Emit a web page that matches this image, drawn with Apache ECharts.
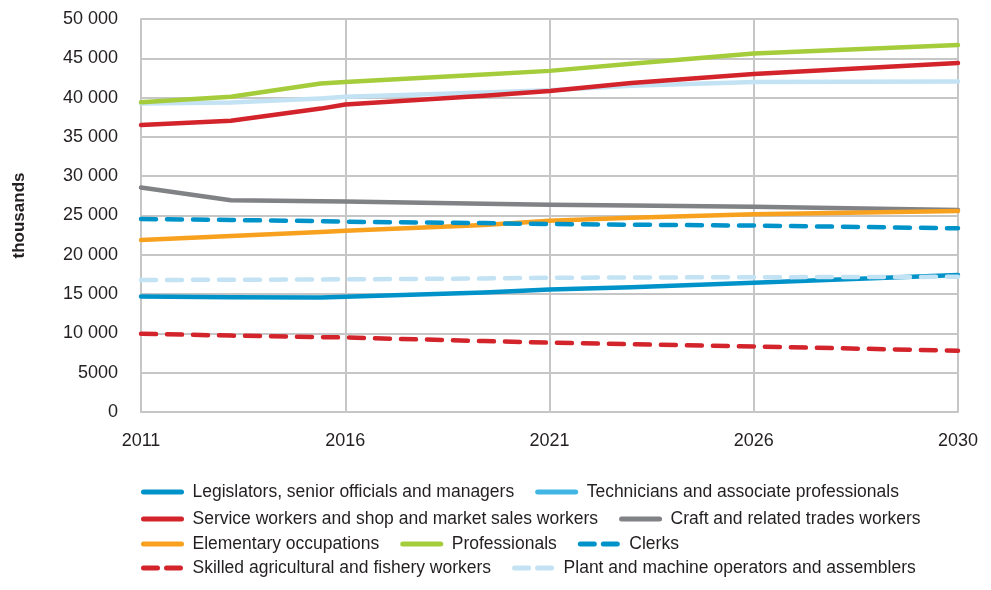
<!DOCTYPE html>
<html>
<head>
<meta charset="utf-8">
<script src="https://cdn.jsdelivr.net/npm/echarts@6/dist/echarts.min.js"></script>
<style>
html,body{margin:0;padding:0;background:#fff;}
#chart{width:991px;height:590px;}
</style>
</head>
<body>
<div id="chart"></div>
<script>
// ---- data ----
const xLabels = ['2011', '2016', '2021', '2026', '2030'];
const xPos = [0, 2.2, 4.4, 5, 8.4, 10, 12, 15, 20];
const yLabels = ['0', '5000', '10 000', '15 000', '20 000', '25 000', '30 000', '35 000', '40 000', '45 000', '50 000'];
const yTitle = 'thousands';

const legislators   = [14680, 14600, 14560, 14650, 15200, 15580, 15870, 16430, 17430];
const technicians   = [39250, 39380, 39900, 40100, 40650, 40950, 41500, 42000, 42050];
const service       = [36500, 37050, 38600, 39130, 40250, 40850, 41850, 42990, 44400];
const craft         = [28550, 26950, 26820, 26780, 26500, 26370, 26280, 26100, 25700];
const elementary    = [21880, 22400, 22900, 23060, 23790, 24330, 24720, 25150, 25570];
const professionals = [39400, 40100, 41800, 41980, 42950, 43400, 44300, 45600, 46680];
const clerks        = [24550, 24430, 24280, 24210, 24030, 23910, 23830, 23720, 23370];
const skilled       = [9950, 9720, 9530, 9480, 9020, 8820, 8620, 8330, 7800];
const plant         = [16800, 16820, 16860, 16880, 16990, 17080, 17110, 17150, 17200];

const names = [
  'Legislators, senior officials and managers',
  'Technicians and associate professionals',
  'Service workers and shop and market sales workers',
  'Craft and related trades workers',
  'Elementary occupations',
  'Professionals',
  'Clerks',
  'Skilled agricultural and fishery workers',
  'Plant and machine operators and assemblers'
];
const values = [legislators, technicians, service, craft, elementary, professionals, clerks, skilled, plant];
const colors = ['#0093c9', '#c3e2f3', '#d3232b', '#818285', '#f7a11f', '#a5cc3a', '#0093c9', '#d3232b', '#c3e2f3'];
const dashed = [false, false, false, false, false, false, true, true, true];
const legendRows = [
  [0, 1],
  [2, 3],
  [4, 5, 6],
  [7, 8]
];
const legendIconOverride = { 1: '#41b5e4' };

// ---- chart ----
const FONT = '"Liberation Sans", Arial, sans-serif';
const TXT = '#231f20';
const chart = echarts.init(document.getElementById('chart'), null, { renderer: 'canvas' });

const series = names.map((n, i) => ({
  name: n,
  type: 'line',
  data: xPos.map((x, k) => [x, values[i][k]]),
  showSymbol: false,
  symbol: 'none',
  smooth: false,
  lineStyle: {
    color: colors[i],
    width: 4.5,
    cap: 'round',
    join: 'round',
    type: dashed[i] ? [15, 11] : 'solid'
  },
  itemStyle: { color: colors[i] },
  emphasis: { disabled: true },
  z: 2
}));

const rowTops = [483, 510, 535, 559];
const legends = legendRows.map((row, r) => ({
  show: true,
  left: 141,
  top: rowTops[r],
  width: 840,
  orient: 'horizontal',
  itemWidth: 38,
  itemHeight: 10,
  itemGap: 21,
  padding: 0,
  selectedMode: false,
  itemStyle: { color: 'rgba(0,0,0,0)', borderWidth: 0, opacity: 0 },
  lineStyle: { width: 5, cap: 'round' },
  textStyle: { fontFamily: FONT, fontSize: 17.5, color: TXT, padding: [0, 0, 0, 6] },
  data: row.map(i => {
    const d = { name: names[i] };
    const ls = { width: 5, cap: 'round', type: dashed[i] ? [14, 9] : 'solid' };
    if (legendIconOverride[i]) ls.color = legendIconOverride[i];
    d.lineStyle = ls;
    d.itemStyle = { color: 'rgba(0,0,0,0)', borderWidth: 0, opacity: 0 };
    return d;
  })
}));

chart.setOption({
  animation: false,
  backgroundColor: '#ffffff',
  grid: { left: 141, right: 33, top: 19, bottom: 178, containLabel: false },
  legend: legends,
  xAxis: {
    type: 'value',
    min: 0,
    max: 20,
    interval: 5,
    axisLine: { show: true, lineStyle: { color: '#c6c6c6', width: 2 } },
    axisTick: { show: false },
    splitLine: { show: true, lineStyle: { color: '#c6c6c6', width: 2 } },
    axisLabel: {
      fontFamily: FONT, fontSize: 18, color: TXT, margin: 20,
      formatter: v => xLabels[Math.round(v / 5)]
    }
  },
  yAxis: {
    type: 'value',
    min: 0,
    max: 50000,
    interval: 5000,
    name: yTitle,
    nameLocation: 'middle',
    nameGap: 113,
    nameRotate: 90,
    nameTextStyle: { fontFamily: FONT, fontSize: 17, fontWeight: 'bold', color: TXT },
    axisLine: { show: true, lineStyle: { color: '#c6c6c6', width: 2 } },
    axisTick: { show: false },
    splitLine: { show: true, lineStyle: { color: '#c6c6c6', width: 2 } },
    axisLabel: {
      fontFamily: FONT, fontSize: 18, color: TXT, margin: 23,
      formatter: v => yLabels[Math.round(v / 5000)]
    }
  },
  series: series
});
</script>
</body>
</html>
